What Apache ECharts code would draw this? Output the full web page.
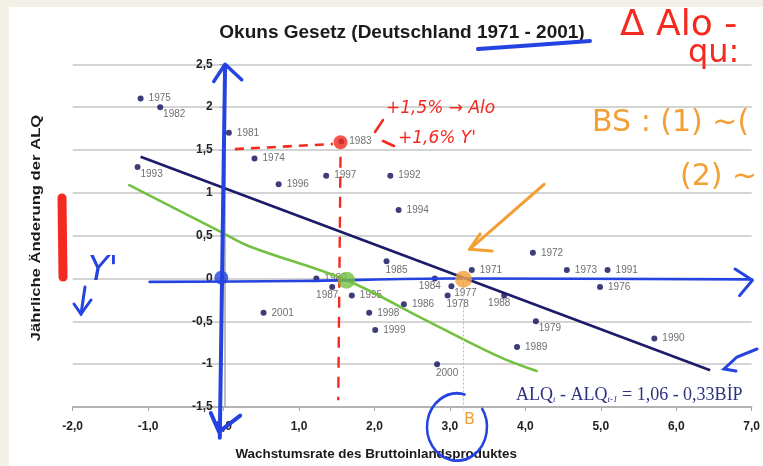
<!DOCTYPE html>
<html>
<head>
<meta charset="utf-8">
<script src="https://cdn.jsdelivr.net/npm/echarts@6/dist/echarts.min.js"></script>
<style>
html,body{margin:0;padding:0;background:#f3f1e7;}
#chart{width:763px;height:466px;}
</style>
</head>
<body>
<div id="chart"></div>
<script>
// ---- data ----
const years = [1971,1972,1973,1974,1975,1976,1977,1978,1979,1980,1981,1982,1983,1984,1985,1986,1987,1988,1989,1990,1991,1992,1993,1994,1995,1996,1997,1998,1999,2000,2001];
const gdpGrowth = [3.29,4.10,4.55,0.41,-1.10,4.99,3.02,2.97,4.14,1.23,0.07,-0.84,1.56,2.80,2.16,2.39,1.44,3.72,3.89,5.71,5.09,2.21,-1.14,2.32,1.70,0.73,1.36,1.93,2.01,2.83,0.53];
const alqChange = [0.10,0.30,0.10,1.40,2.10,-0.10,-0.09,-0.20,-0.50,0.00,1.70,2.00,1.60,0.00,0.20,-0.30,-0.10,-0.20,-0.80,-0.70,0.10,1.20,1.30,0.80,-0.20,1.10,1.20,-0.40,-0.60,-1.00,-0.40];
const labelPlace = ['r','r','r','r','r','r','br','b','br','r','r','br','r','bl','b','r','bl','bl','r','r','r','r','br','r','r','r','r','r','r','b','r'];

const regX = [-1.10, 6.45];
const regY = [1.42, -1.07];

const xTickValues = [-2,-1,0,1,2,3,4,5,6,7];
const xTickLabels = ['-2,0','-1,0','0,0','1,0','2,0','3,0','4,0','5,0','6,0','7,0'];
const yTickValues = [-1.5,-1,-0.5,0,0.5,1,1.5,2,2.5];
const yTickLabels = ['-1,5','-1','-0,5','0','0,5','1','1,5','2','2,5'];

// hand-drawn annotations (in data units)
const greenX = [-1.25,-0.05,0.33,1.63,2.60,3.62,4.15];
const greenY = [1.09,0.55,0.38,-0.02,-0.45,-0.90,-1.08];
const blueHX = [-0.98,1.0,3.0,7.0];
const blueHY = [-0.04,-0.03,0.0,-0.01];
const blueHHeadX = [6.78,7.01,6.84];
const blueHHeadY = [0.11,-0.02,-0.20];
const blueVX = [-0.05,0.02];
const blueVY = [-1.86,2.49];
const blueVTopX = [-0.13,0.02,0.24];
const blueVTopY = [2.30,2.50,2.32];
const blueVBotX = [-0.17,-0.06,0.22];
const blueVBotY = [-1.57,-1.79,-1.60];
const redHX = [0.15,1.45];
const redHY = [1.51,1.57];
const redVX = [1.55,1.52];
const redVY = [1.42,-1.42];
const orangeVX = [3.18,3.18];
const orangeVY = [0.0,-1.55];
const orangeArrowX = [4.25,3.26];
const orangeArrowY = [1.10,0.34];
const orangeHeadX = [3.40,3.26,3.56];
const orangeHeadY = [0.52,0.34,0.32];
const dotBlue = [-0.03,0.01];
const dotRed = [1.55,1.59];
const dotGreen = [1.63,-0.02];
const dotOrange = [3.18,-0.01];

// ---- build ----
const zip = (a,b) => a.map((v,i)=>[v,b[i]]);
const labelStyles = {
  r:  {position:'right', distance:5},
  br: {position:'bottom', distance:-1, offset:[14,0]},
  b:  {position:'bottom', distance:1, offset:[10,0]},
  bl: {position:'bottom', distance:0, offset:[-5,0]}
};
const scatterData = years.map((y,i)=>({
  name: String(y),
  value: [gdpGrowth[i], alqChange[i]],
  label: labelStyles[labelPlace[i]]
}));
const fmt = (vals, labs) => v => {
  const i = vals.findIndex(t => Math.abs(t - v) < 1e-6);
  return i >= 0 ? labs[i] : '';
};
const BLUE = '#2443e0', RED = '#f42a1e', ORANGE = '#f2a035', GREEN = '#74c043';
const handLine = (data, color, width, extra) => Object.assign({
  type:'line', data, symbol:'none', clip:false, silent:true, z:5,
  lineStyle:{color, width, cap:'round', join:'round'}
}, extra || {});

const GRID_LEFT = 72.7, GRID_RIGHT = 6.3, X_MIN = -2, X_MAX = 7;
const plotW = 763 - GRID_LEFT - GRID_RIGHT;
const yAxisOffset = -plotW * (0 - X_MIN) / (X_MAX - X_MIN); // put the y axis at x = 0

const chart = echarts.init(document.getElementById('chart'), null, {renderer:'canvas'});
chart.setOption({
  backgroundColor:'#f3f1e7',
  animation:false,
  title:{
    text:'Okuns Gesetz (Deutschland 1971 - 2001)',
    left:397, top:18, textAlign:'center',
    textStyle:{fontFamily:'Liberation Sans', fontWeight:'bold', fontSize:19, color:'#1a1a1a'}
  },
  grid:{left:GRID_LEFT, right:GRID_RIGHT, top:64.3, bottom:57, containLabel:false},
  xAxis:{
    type:'value', min:X_MIN, max:X_MAX, interval:1,
    name:'Wachstumsrate des Bruttoinlandsproduktes',
    nameLocation:'middle', nameGap:41,
    nameTextStyle:{fontFamily:'Liberation Sans', fontWeight:'bold', fontSize:13.4, color:'#1a1a1a', padding:[0,72,0,0]},
    axisLine:{onZero:false, lineStyle:{color:'#a8a8a8', width:1.5}},
    axisTick:{show:true, length:4, lineStyle:{color:'#a8a8a8'}},
    axisLabel:{margin:14, fontFamily:'Liberation Sans', fontWeight:'bold', fontSize:12, color:'#222', formatter:fmt(xTickValues,xTickLabels)},
    splitLine:{show:false}
  },
  yAxis:{
    type:'value', min:-1.5, max:2.5, interval:0.5,
    position:'left', offset:yAxisOffset,
    axisLine:{show:true, onZero:false, lineStyle:{color:'#a8a8a8', width:1.5}},
    axisTick:{show:true, length:5, lineStyle:{color:'#a8a8a8'}},
    axisLabel:{margin:12, fontFamily:'Liberation Sans', fontWeight:'bold', fontSize:12, color:'#222', formatter:fmt(yTickValues,yTickLabels)},
    splitLine:{show:true, lineStyle:{color:'#c6c6c6', width:1.5}}
  },
  series:[
    {
      type:'scatter', name:'Jahre', data:scatterData, symbolSize:6, z:3,
      itemStyle:{color:'#0c0c5a'},
      label:{show:true, formatter:'{b}', fontFamily:'Liberation Sans', fontSize:10, color:'#4a4a4a'}
    },
    {
      type:'line', name:'Regression', data:zip(regX,regY), symbol:'none', z:4,
      lineStyle:{color:'#1b1b68', width:2.6}
    },
    handLine(zip(greenX,greenY), GREEN, 2.6, {smooth:0.4}),
    handLine(zip(blueHX,blueHY), BLUE, 2.6, {smooth:0.3}),
    handLine(zip(blueHHeadX,blueHHeadY), BLUE, 3),
    handLine(zip(blueVX,blueVY), BLUE, 4),
    handLine(zip(blueVTopX,blueVTopY), BLUE, 3.5),
    handLine(zip(blueVBotX,blueVBotY), BLUE, 4),
    handLine(zip(redHX,redHY), RED, 2.6, {lineStyle:{color:RED, width:2.6, type:[9,7]}}),
    handLine(zip(redVX,redVY), RED, 2.4, {lineStyle:{color:RED, width:2.4, type:[11,9]}}),
    handLine(zip(orangeVX,orangeVY), ORANGE, 1, {lineStyle:{color:'#e9b07a', width:1, type:[2,2]}}),
    handLine(zip(orangeArrowX,orangeArrowY), ORANGE, 3),
    handLine(zip(orangeHeadX,orangeHeadY), ORANGE, 3),
    {type:'scatter', data:[dotBlue], symbolSize:14, itemStyle:{color:BLUE}, z:6, silent:true},
    {type:'scatter', data:[dotRed], symbolSize:14, itemStyle:{color:RED}, z:6, silent:true},
    {type:'scatter', data:[dotGreen], symbolSize:17, itemStyle:{color:GREEN}, z:6, silent:true},
    {type:'scatter', data:[dotOrange], symbolSize:17, itemStyle:{color:ORANGE}, z:6, silent:true}
  ],
  graphic:{elements:[
    {type:'rect', z:-10, shape:{x:9, y:7, width:760, height:466}, style:{fill:'#ffffff'}},
    {type:'text', x:36, y:228, rotation:Math.PI/2, scaleX:1.28, z:10,
      style:{text:'Jährliche Änderung der ALQ', font:'bold 13px "Liberation Sans"', fill:'#1a1a1a', textAlign:'center', textVerticalAlign:'middle'}},
    {type:'text', x:516, y:395, z:10,
      style:{text:'ALQ{s|t} - ALQ{s|t-1} = 1,06 - 0,33BİP', font:'18px "Liberation Serif"', fill:'#2d3280', textVerticalAlign:'middle',
        rich:{s:{font:'italic 9px "Liberation Serif"', fill:'#2d3280', padding:[10,0,0,0]}}}},
    // hand-drawn marks
    {type:'polyline', z:10, shape:{points:[[62,198],[63,277]]}, style:{stroke:RED, lineWidth:9, lineCap:'round'}},
    {type:'text', x:88, y:254, z:10, style:{text:"Y'", font:'italic 34px "DejaVu Sans"', fill:BLUE}},
    {type:'polyline', z:10, shape:{points:[[85,287],[81,314]]}, style:{stroke:BLUE, lineWidth:3, lineCap:'round'}},
    {type:'polyline', z:10, shape:{points:[[74,304],[81,314],[91,300]]}, style:{stroke:BLUE, lineWidth:3, lineCap:'round', fill:'none'}},
    {type:'polyline', z:10, shape:{points:[[478,49],[535,45],[590,41]]}, style:{stroke:BLUE, lineWidth:4, lineCap:'round', fill:'none'}},
    {type:'arc', z:10, shape:{cx:457, cy:427, r:30, startAngle:-0.6, endAngle:5.0}, scaleY:1.12, originX:457, originY:427, style:{stroke:BLUE, lineWidth:2.5, fill:'none'}},
    {type:'text', x:464, y:412, z:10, style:{text:'B', font:'16px "DejaVu Sans"', fill:ORANGE}},
    {type:'polyline', z:10, shape:{points:[[757,349],[737,357],[724,369],[736,371]]}, style:{stroke:BLUE, lineWidth:3, lineCap:'round', fill:'none'}},
    {type:'text', x:620, y:8, z:10, style:{text:'Δ Alo -', font:'36px "DejaVu Sans"', fill:RED}},
    {type:'text', x:688, y:38, z:10, style:{text:'qu:', font:'32px "DejaVu Sans"', fill:RED}},
    {type:'text', x:592, y:108, z:10, style:{text:'BS : (1) ~(', font:'30px "DejaVu Sans"', fill:ORANGE}},
    {type:'text', x:680, y:162, z:10, style:{text:'(2) ~', font:'30px "DejaVu Sans"', fill:ORANGE}},
    {type:'text', x:386, y:100, z:10, style:{text:'+1,5% → Alo', font:'italic 17px "DejaVu Sans"', fill:RED}},
    {type:'text', x:398, y:130, z:10, style:{text:"+1,6% Y'", font:'italic 17px "DejaVu Sans"', fill:RED}},
    {type:'polyline', z:10, shape:{points:[[375,132],[383,120]]}, style:{stroke:RED, lineWidth:2.5, lineCap:'round'}},
    {type:'polyline', z:10, shape:{points:[[383,141],[394,146]]}, style:{stroke:RED, lineWidth:2.5, lineCap:'round'}}
  ]}
});
</script>
</body>
</html>
